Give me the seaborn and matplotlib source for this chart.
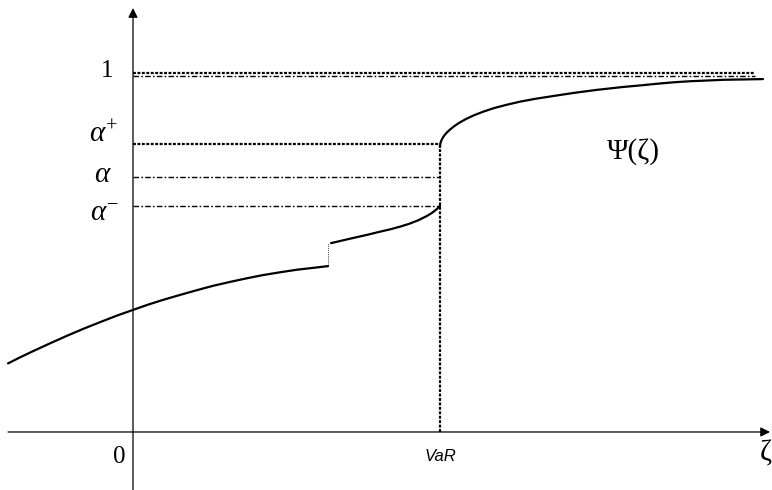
import numpy as np
import matplotlib
matplotlib.use("Agg")
import matplotlib.pyplot as plt
import matplotlib.transforms as mtransforms
import seaborn as sns

sns.set_theme(style="white")
plt.rcParams["font.family"] = ["Liberation Serif", "DejaVu Serif"]
plt.rcParams["mathtext.fontset"] = "custom"
plt.rcParams["mathtext.rm"] = "Liberation Serif"
plt.rcParams["mathtext.it"] = "Liberation Serif:italic"

# Distribution function Psi(zeta), three pieces (VaR = 1)
lower_x = [-0.407, -0.370, -0.326, -0.270, -0.215, -0.160, -0.107, -0.053, 0.0,
           0.050, 0.098, 0.150, 0.208, 0.260, 0.316, 0.370, 0.423, 0.480, 0.534,
           0.585, 0.635]
lower_y = [0.191, 0.207, 0.225, 0.247, 0.268, 0.288, 0.306, 0.324, 0.340,
           0.355, 0.368, 0.381, 0.395, 0.407, 0.418, 0.428, 0.437, 0.445, 0.452,
           0.457, 0.462]
middle_x = [0.645, 0.680, 0.720, 0.762, 0.800, 0.840, 0.870, 0.900, 0.930, 0.958,
            0.975, 0.990, 1.0]
middle_y = [0.526, 0.533, 0.541, 0.549, 0.557, 0.565, 0.572, 0.580, 0.590, 0.602,
            0.611, 0.621, 0.630]
upper_x = [1.0, 1.001, 1.004, 1.008, 1.014, 1.022, 1.032, 1.045, 1.062, 1.085,
           1.110, 1.140, 1.175, 1.215, 1.260, 1.310, 1.370, 1.440, 1.511, 1.596,
           1.660, 1.707, 1.760, 1.814, 1.870, 1.922, 1.990, 2.052]
upper_y = [0.794, 0.803, 0.811, 0.818, 0.826, 0.834, 0.842, 0.851, 0.861, 0.872,
           0.882, 0.892, 0.902, 0.911, 0.920, 0.928, 0.936, 0.945, 0.953, 0.961,
           0.966, 0.970, 0.974, 0.977, 0.979, 0.981, 0.982, 0.983]

var_level = 1.0
alpha_plus = 0.802
alpha_mid = 0.710
alpha_minus = 0.630
level_one = 1.0
one_line_end = 2.026

level_values = [level_one, alpha_plus, alpha_mid, alpha_minus]
level_labels = ["1", r"$\alpha^{+}$", r"$\alpha$", r"$\alpha^{-}$"]

fig = plt.figure(figsize=(7.72, 4.90), dpi=100)
ax = fig.add_axes([0, 0, 1, 1])
ax.set_xlim(-0.4332, 2.0814)
ax.set_ylim(-0.1616, 1.2033)
ax.axis("off")

dotted = (0, (1.3, 0.7))
dashdot = (0, (4, 1.6, 1.2, 1.6))

# coordinate axes with arrow heads
ax.annotate("", xy=(2.075, 0), xytext=(-0.407, 0),
            arrowprops=dict(arrowstyle="-|>", color="black", lw=0.9,
                            mutation_scale=14, shrinkA=0, shrinkB=0))
ax.annotate("", xy=(0, 1.181), xytext=(0, -0.1616),
            arrowprops=dict(arrowstyle="-|>", color="black", lw=0.9,
                            mutation_scale=14, shrinkA=0, shrinkB=0))

# level 1: dotted line with a dash-dot line just under it
ax.plot([0, one_line_end], [level_one, level_one], color="black", lw=1.6, ls=dotted)
below = mtransforms.offset_copy(ax.transData, fig=fig, x=0, y=-3, units="dots")
ax.plot([0, one_line_end], [level_one, level_one], color="black", lw=1.0, ls=dashdot,
        transform=below)

# guide lines at alpha+, alpha, alpha-
ax.plot([0, var_level], [alpha_plus, alpha_plus], color="black", lw=1.6, ls=dotted)
ax.plot([0, var_level], [alpha_mid, alpha_mid], color="black", lw=1.0, ls=dashdot)
ax.plot([0, var_level], [alpha_minus, alpha_minus], color="black", lw=1.0, ls=dashdot)

# vertical at VaR
ax.plot([var_level, var_level], [0, alpha_plus], color="black", lw=1.6, ls=dotted)

# jump of Psi below VaR
ax.plot([lower_x[-1], lower_x[-1]], [lower_y[-1], middle_y[0]], color="#444444",
        lw=0.7, ls=(0, (1, 1)))

for xs, ys in [(lower_x, lower_y), (middle_x, middle_y), (upper_x, upper_y)]:
    sns.lineplot(x=xs, y=ys, ax=ax, color="black", lw=1.6, sort=False, estimator=None)

# labels on the vertical axis
label_x = [-0.085, -0.095, -0.098, -0.092]
label_dy = [0.005, 0.025, 0.005, -0.022]
for lx, dy, val, lab in zip(label_x, label_dy, level_values, level_labels):
    fs = 18 if lab == "1" else 21
    ax.text(lx, val + dy, lab, fontsize=fs, ha="center", va="center", color="black")

ax.text(-0.046, -0.071, "0", fontsize=18, ha="center", va="center", color="black")
ax.text(var_level, -0.068, "VaR", fontsize=12, ha="center", va="center",
        family="Liberation Sans", style="italic", color="black")
ax.text(2.079, -0.060, "ζ", fontsize=21, ha="right", va="center", color="black")
ax.text(1.629, 0.780, "Ψ(ζ)", fontsize=21, ha="center", va="center", color="black")

fig.savefig("out.png", dpi=100)
